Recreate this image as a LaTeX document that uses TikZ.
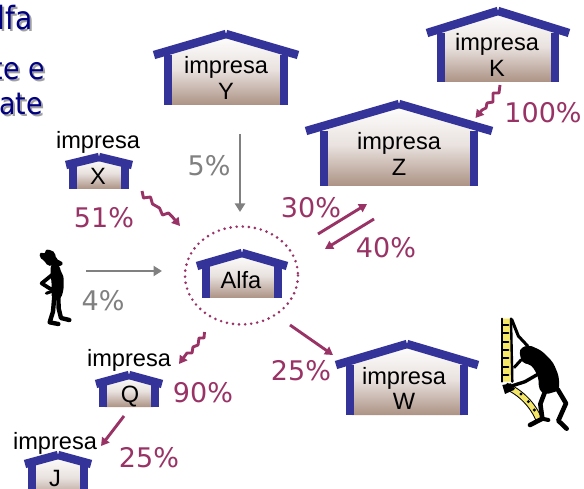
\documentclass[tikz,border=0pt]{standalone}
\usepackage{fontspec}
\setmainfont{Liberation Sans}
\newfontfamily\pctfont{DejaVu Sans}
\newfontfamily\titlefont[FakeStretch=0.88]{DejaVu Sans}
\usetikzlibrary{arrows.meta}
\definecolor{roofblue}{HTML}{333399}
\definecolor{brownbase}{HTML}{AC9284}
\definecolor{brownmid}{HTML}{E9E2DF}
\definecolor{plum}{HTML}{993366}
\definecolor{midgrey}{HTML}{808080}
\definecolor{titleblue}{HTML}{000080}
\definecolor{titleshadow}{HTML}{A0A0A0}
\definecolor{tapeyellow}{HTML}{F4E668}
\tikzset{
  lbl/.style={anchor=base,inner sep=0pt,text=black,font=\fontsize{23.6}{24}\selectfont},
  pct/.style={anchor=base,inner sep=0pt,text=plum,font=\pctfont\fontsize{27}{28}\selectfont},
  gpct/.style={pct,text=midgrey},
  ttl/.style={anchor=base east,inner sep=0pt,text=titleblue,font=\titlefont\fontsize{#1}{#1}\selectfont},
  ttls/.style={ttl=#1,text=titleshadow},
  plumarrow/.style={draw=plum,line width=2.9pt,-{Triangle[length=8pt,width=9pt]}},
  greyarrow/.style={draw=midgrey,line width=2.9pt,-{Triangle[length=8.5pt,width=10pt]}},
  squiggle/.style={plumarrow,line join=round},
  roofline/.style={draw=roofblue,line width=8.4pt},
  wall/.style={fill=roofblue,draw=none},
  ink/.style={draw=black,line cap=round,line join=round},
}
% name, centre x, apex top y, half roof, roof end y, half wall, bottom y
\newcommand{\hutshape}[7]{%
  \shade[top color=white,bottom color=brownbase,middle color=brownmid]
    (#2-#6+6,#7) -- (#2-#6+6,#5-1) -- (#2,#3+4) -- (#2+#6-6,#5-1) -- (#2+#6-6,#7) -- cycle;
  \fill[wall] (#2-#6,#7) rectangle (#2-#6+8,#5);
  \fill[wall] (#2+#6-8,#7) rectangle (#2+#6,#5);
  \draw[roofline] (#2-#4,#5) -- (#2,#3+4);
  \draw[roofline] (#2+#4,#5) -- (#2,#3+4);
  \coordinate (#1) at (#2,#7);
}
\begin{document}
\begin{tikzpicture}[x=1pt,y=-1pt]
\useasboundingbox (0,0) rectangle (584,489);
\clip (0,0) rectangle (584,489);
\fill[white] (0,0) rectangle (584,489);

% title fragments
\node[ttls=32] at (35,32) {lfa};
\node[ttl=32] (t1) at (33,30) {lfa};
\node[ttls=30.5] at (47,82) {te e};
\node[ttl=30.5] (t2) at (45,80) {te e};
\node[ttls=30.5] at (45,117) {ate};
\node[ttl=30.5] (t3) at (43,115) {ate};

% houses
\hutshape{hY}{226}{30}{72}{55}{62}{105}
\hutshape{hK}{498}{7}{71}{33}{61}{82}
\hutshape{hZ}{399}{100}{93}{131}{79}{186}
\hutshape{hW}{407}{340}{71}{365}{61}{415}
\hutshape{hA}{242}{249}{45}{266}{40}{298}
\hutshape{hX}{99}{153}{33}{165}{30}{189}
\hutshape{hQ}{129}{371}{33}{384}{30}{407}
\hutshape{hJ}{58}{451}{33}{464}{30}{500}

% house labels
\node[lbl] (tY) at (226,74) {impresa};
\node[lbl] (nY) at (226,100) {Y};
\node[lbl] (tK) at (497,51) {impresa};
\node[lbl] (nK) at (497,77) {K};
\node[lbl] (tZ) at (399,150) {impresa};
\node[lbl] (nZ) at (399,176) {Z};
\node[lbl] (tW) at (404,384) {impresa};
\node[lbl] (nW) at (404,409) {W};
\node[lbl] (tX) at (98,149) {impresa};
\node[lbl] (nX) at (98,185) {X};
\node[lbl] (tQ) at (129,366) {impresa};
\node[lbl] (nQ) at (130,402) {Q};
\node[lbl] (tJ) at (55,449) {impresa};
\node[lbl] (nJ) at (55,486) {J};
\node[lbl] (nA) at (241,288) {Alfa};

% dotted ring round Alfa
\draw[plum,line width=2.9pt,line cap=round,dash pattern=on 0pt off 6.1pt]
  (241.5,275.5) ellipse [x radius=56.5,y radius=49];

% percentages
\node[gpct] (p5) at (209,176) {5\%};
\node[gpct] (p4) at (103,311) {4\%};
\node[pct] (p51) at (104,228) {51\%};
\node[pct] (p30) at (311,218) {30\%};
\node[pct] (p40) at (386,258) {40\%};
\node[pct] (p100) at (543,123) {100\%};
\node[pct] (p25w) at (301,380) {25\%};
\node[pct] (p90) at (203,402) {90\%};
\node[pct] (p25j) at (149,467) {25\%};

% connector ends
\coordinate (aYs) at (240,134);   \coordinate (aYe) at (240,212);
\coordinate (aMs) at (86,271);    \coordinate (aMe) at (162,271);
\coordinate (aQs) at (124,416);   \coordinate (aQe) at (101,446);
\coordinate (aWs) at (290,325);   \coordinate (aWe) at (333,355);
\coordinate (a30s) at (318,234);  \coordinate (a30e) at (367,204);
\coordinate (a40s) at (374,219);  \coordinate (a40e) at (325,249);
\coordinate (sXs) at (142,191);   \coordinate (sXe) at (180,226);
\coordinate (sAs) at (204.5,332); \coordinate (sAe) at (179,364);
\coordinate (sKs) at (500,85);    \coordinate (sKe) at (475.5,118);

\draw[greyarrow] (aYs) -- (aYe);
\draw[greyarrow] (aMs) -- (aMe);
\draw[plumarrow] (aQs) -- (aQe);
\draw[plumarrow] (aWs) -- (aWe);
\draw[plumarrow] (a30s) -- (a30e);
\draw[plumarrow] (a40s) -- (a40e);
\draw[squiggle] (sXs) -- ++(1.5,7) -- ++(7,-1) -- ++(2,7) -- ++(7,4) -- ++(3,7) -- ++(6,-2) -- ++(4,4) -- (sXe);
\draw[squiggle] (sAs) -- ++(-0.5,6) -- ++(-5,0) -- ++(-1,7) -- ++(-5,2) -- ++(-1,6) -- ++(-5,0) -- (sAe);
\draw[squiggle] (sKs) -- ++(-1,8) -- ++(-6,0) -- ++(0,9) -- ++(-6,1) -- ++(-1,5) -- ++(-4,2) -- (sKe);

% man with hat
\begin{scope}[shift={(25,240)},scale=1/3]
  \fill[black,rounded corners=2pt] (46,36) -- (60,42) -- (62,28) -- (80,31) -- (90,38) -- (93,56) -- (115,68) -- (108,80) -- (85,76) -- (68,78) -- (58,62) -- (43,52) -- cycle;
  \fill[black,rounded corners=3pt] (78,72) -- (104,76) -- (106,92) -- (116,108) -- (116,148) -- (108,176) -- (80,176) -- (80,130) -- (76,100) -- cycle;
  \draw[ink,line width=3.8pt] (82,104) -- (50,130) -- (75,146) -- (88,148);
  \draw[ink,line width=3pt] (64,160) -- (86,152);
  \draw[ink,line width=4.4pt] (100,168) -- (101,205) -- (108,234) -- (133,240);
  \draw[ink,line width=4.4pt] (88,168) -- (84,215) -- (74,247) -- (100,252);
\end{scope}

% climbing figure with measuring tape
\begin{scope}[shift={(495,310)},scale=1/3]
  \fill[tapeyellow] (22,26) -- (50,26) -- (52,215) -- (22,215) -- cycle;
  \draw[ink,line width=2pt] (22,26) -- (22,215);
  \foreach \yy in {45,70,95,120,145,170,195}
    \draw[ink,line width=2pt] (24,\yy) -- (40,\yy);
  \draw[ink,line width=2.4pt] (48,26) -- (52,215);
  \draw[black,line width=7pt,line cap=butt] (32,228) .. controls (75,245) and (115,285) .. (133,332);
  \draw[tapeyellow,line width=5pt,line cap=butt] (32,228) .. controls (75,245) and (115,285) .. (133,332);
  \foreach \tx/\ty in {55/236,78/252,100/275,118/300}
    \fill[black] (\tx,\ty) circle (5);
  \fill[black] (22,225) -- (48,220) -- (56,240) -- (30,252) -- cycle;
  \draw[ink,line width=3pt] (50,28) -- (70,78) -- (98,108);
  \fill[black,rounded corners=4pt] (72,118) -- (100,104) -- (140,122) -- (175,158) -- (192,200) -- (192,242) -- (150,254) -- (132,240) -- (130,200) -- (110,165) -- (80,158) -- cycle;
  \draw[ink,line width=3pt] (78,150) -- (58,172);
  \draw[ink,line width=3.4pt] (130,192) -- (90,215) -- (50,228);
  \draw[ink,line width=4.6pt] (150,245) -- (136,282) -- (142,326) -- (105,345);
  \draw[ink,line width=4pt] (142,326) -- (160,330);
  \draw[ink,line width=4.6pt] (188,238) -- (213,280) -- (190,332) -- (215,356);
\end{scope}
\end{tikzpicture}
\end{document}
